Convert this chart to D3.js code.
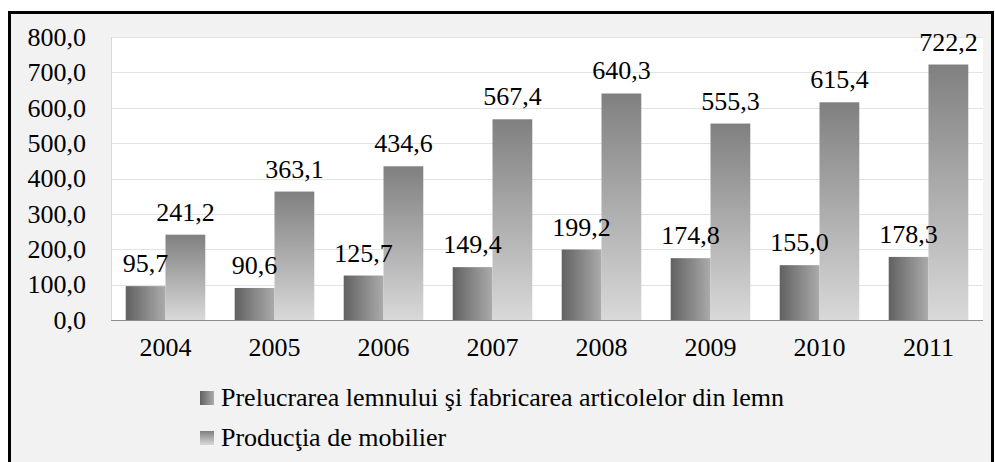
<!DOCTYPE html>
<html>
<head>
<meta charset="UTF-8">
</head>
<body style="margin:0">
<script src="https://d3js.org/d3.v7.min.js"></script>
<script>
    // Date
    const years = ["2004", "2005", "2006", "2007", "2008", "2009", "2010", "2011"];
    const lemn = [95.7, 90.6, 125.7, 149.4, 199.2, 174.8, 155.0, 178.3];
    const mobilier = [241.2, 363.1, 434.6, 567.4, 640.3, 555.3, 615.4, 722.2];
    const seriesNames = ["Prelucrarea lemnului şi fabricarea articolelor din lemn", "Producţia de mobilier"];
    const yTicks = [0, 100, 200, 300, 400, 500, 600, 700, 800];

    const width = 995, height = 462;
    const plot = { left: 111, right: 983, top: 37, bottom: 320 };
    const serif = d => "'Liberation Serif', 'Times New Roman', Tinos, FreeSerif";
    const fmt = v => d3.format(".1f")(v).replace(".", ",");

    const svg = d3.select("body")
        .append("svg")
        .attr("width", width)
        .attr("height", height);

    // gradients
    const defs = svg.append("defs");
    const g1 = defs.append("linearGradient").attr("id", "grad1")
        .attr("x1", "0").attr("y1", "0").attr("x2", "1").attr("y2", "0");
    g1.append("stop").attr("offset", "0%").attr("stop-color", "#616161");
    g1.append("stop").attr("offset", "100%").attr("stop-color", "#ababab");
    const g2 = defs.append("linearGradient").attr("id", "grad2")
        .attr("x1", "0").attr("y1", "0").attr("x2", "0").attr("y2", "1");
    g2.append("stop").attr("offset", "0%").attr("stop-color", "#808080");
    g2.append("stop").attr("offset", "100%").attr("stop-color", "#d9d9d9");

    // outer frame
    svg.append("rect")
        .attr("x", 9.5).attr("y", 12.5).attr("width", 983).attr("height", 470)
        .attr("fill", "#f2f2f2")
        .attr("stroke", "#000").attr("stroke-width", 3);

    // plot area
    svg.append("rect")
        .attr("x", plot.left).attr("y", plot.top)
        .attr("width", plot.right - plot.left).attr("height", plot.bottom - plot.top)
        .attr("fill", "#ffffff");

    const x0 = d3.scaleBand().domain(years).range([plot.left, plot.right]).paddingInner(0.27).paddingOuter(0.135);
    const x1 = d3.scaleBand().domain([0, 1]).range([0, x0.bandwidth()]);
    const y = d3.scaleLinear().domain([0, 800]).range([plot.bottom, plot.top]);

    // grid
    svg.append("g")
        .selectAll("line")
        .data(yTicks.filter(d => d > 0))
        .enter()
        .append("line")
        .attr("x1", plot.left).attr("x2", plot.right)
        .attr("y1", d => Math.round(y(d)) + 0.5).attr("y2", d => Math.round(y(d)) + 0.5)
        .attr("stroke", "#e3e3e3").attr("stroke-width", 1);

    // y axis labels
    const yg = svg.append("g")
        .attr("transform", `translate(${plot.left},0)`)
        .call(d3.axisLeft(y).tickValues(yTicks).tickFormat(fmt).tickSize(0).tickPadding(25));
    yg.select(".domain").remove();
    yg.selectAll("text")
        .attr("font-size", 26).attr("fill", "#000")
        .style("font-family", serif);

    // x axis labels
    const xg = svg.append("g")
        .attr("transform", `translate(0,${plot.bottom})`)
        .call(d3.axisBottom(x0).tickSize(0).tickPadding(18));
    xg.select(".domain").remove();
    xg.selectAll("text")
        .attr("font-size", 26).attr("fill", "#000")
        .style("font-family", serif);

    const data = years.map((yr, i) => ({ year: yr, values: [lemn[i], mobilier[i]] }));

    const groups = svg.append("g")
        .selectAll("g")
        .data(data)
        .enter()
        .append("g")
        .attr("transform", d => `translate(${x0(d.year)},0)`);

    groups.selectAll("rect")
        .data(d => d.values.map((v, k) => ({ v, k })))
        .enter()
        .append("rect")
        .attr("x", d => x1(d.k))
        .attr("width", x1.bandwidth())
        .attr("y", d => y(d.v))
        .attr("height", d => plot.bottom - y(d.v))
        .attr("fill", d => d.k === 0 ? "url(#grad1)" : "url(#grad2)");

    groups.selectAll("text")
        .data(d => d.values.map((v, k) => ({ v, k })))
        .enter()
        .append("text")
        .attr("x", d => x1(d.k) + x1.bandwidth() / 2)
        .attr("y", d => y(d.v) - 14)
        .attr("text-anchor", "middle")
        .attr("font-size", 26)
        .style("font-family", serif)
        .text(d => fmt(d.v));

    // baseline
    svg.append("line")
        .attr("x1", plot.left).attr("x2", plot.right)
        .attr("y1", plot.bottom + 0.5).attr("y2", plot.bottom + 0.5)
        .attr("stroke", "#8c8c8c").attr("stroke-width", 1);
    svg.append("line")
        .attr("x1", plot.left + 0.5).attr("x2", plot.left + 0.5)
        .attr("y1", plot.top).attr("y2", plot.bottom)
        .attr("stroke", "#d9d9d9").attr("stroke-width", 1);

    // legend
    const legend = svg.append("g")
        .selectAll("g")
        .data(seriesNames)
        .enter()
        .append("g")
        .attr("transform", (d, i) => `translate(200,${391 + i * 40})`);
    legend.append("rect")
        .attr("width", 14).attr("height", 14)
        .attr("fill", (d, i) => i === 0 ? "url(#grad1)" : "url(#grad2)");
    legend.append("text")
        .attr("x", 21).attr("y", 15)
        .attr("font-size", 26)
        .style("font-family", serif)
        .text(d => d);
</script>
</body>
</html>
